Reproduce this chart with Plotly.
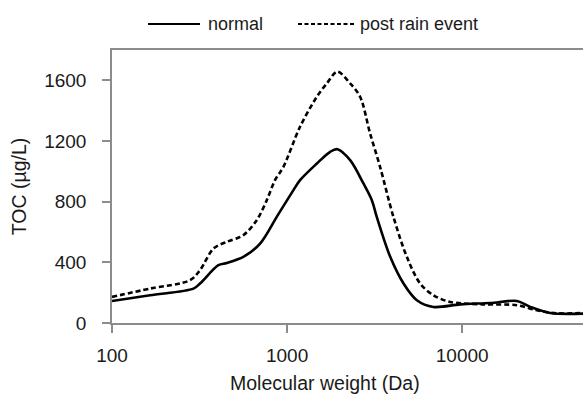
import plotly.graph_objects as go

# Molecular weight (Da) and TOC (µg/L)
mw_normal = [100, 165, 292, 318, 405, 452, 562, 701, 873, 1087, 1186, 1480, 1762, 1937,
             2291, 2729, 3048, 3251, 3882, 4624, 5508, 6855, 9750, 14450, 20560, 24490,
             31840, 48980]
toc_normal = [145, 183, 227, 260, 381, 396, 436, 524, 700, 876, 942, 1052, 1129, 1146,
              1074, 920, 810, 700, 436, 260, 150, 106, 123, 132, 145, 106, 66, 62]

mw_rain = [100, 165, 279, 318, 380, 452, 562, 671, 766, 853, 953, 1186, 1479, 1687, 1937,
           2291, 2612, 2979, 3396, 4046, 4831, 5754, 6855, 8531, 13180, 20560, 26730,
           34670, 48980]
toc_rain = [172, 227, 282, 348, 491, 535, 579, 678, 810, 942, 1030, 1294, 1492, 1580, 1657,
            1580, 1492, 1250, 1030, 700, 436, 260, 183, 139, 123, 117, 84, 64, 66]

x_ticks = [100, 1000, 10000]
y_ticks = [0, 400, 800, 1200, 1600]
series_names = ["normal", "post rain event"]

font = "Liberation Sans, Arial, sans-serif"
axis_col = "#8c8c8c"
txt_col = "#1a1a1a"

W, H = 583, 399
L, R, T, B = 112, 0, 50, 76
pw, ph = W - L - R, H - T - B


def px_x(p):
    return (p - L) / pw


def px_y(p):
    return (H - B - p) / ph


fig = go.Figure()
fig.add_trace(go.Scatter(x=mw_normal, y=toc_normal, mode="lines", name=series_names[0],
                         line=dict(color="black", width=2.6, shape="spline", smoothing=0.9)))
fig.add_trace(go.Scatter(x=mw_rain, y=toc_rain, mode="lines", name=series_names[1],
                         line=dict(color="black", width=2.6, dash="5px,3px", shape="spline",
                                   smoothing=0.9)))

# manual legend (line samples + labels) above the plot
legend_y = 24
for (x0, x1, dash), tx, name in [((148, 200, "solid"), 206, series_names[0]),
                                 ((298, 355, "4px,2.5px"), 358, series_names[1])]:
    fig.add_shape(type="line", xref="paper", yref="paper",
                  x0=px_x(x0), x1=px_x(x1), y0=px_y(legend_y), y1=px_y(legend_y),
                  line=dict(color="black", width=2, dash=dash))
    fig.add_annotation(text=name, xref="paper", yref="paper", x=px_x(tx), y=px_y(legend_y),
                       xanchor="left", yanchor="middle", showarrow=False,
                       font=dict(size=18, color=txt_col, family=font))

# x-axis title placed as an annotation so its vertical position can be matched
fig.add_annotation(text="Molecular weight (Da)", xref="paper", yref="paper",
                   x=px_x(325), y=px_y(383), xanchor="center", yanchor="middle",
                   showarrow=False, font=dict(size=19.5, color=txt_col, family=font))

fig.update_layout(
    width=W, height=H,
    margin=dict(l=L, r=R, t=T, b=B, autoexpand=False),
    paper_bgcolor="white", plot_bgcolor="white",
    font=dict(family=font, size=19, color=txt_col),
    showlegend=False,
    xaxis=dict(type="log", range=[2, 4.69], tickvals=x_ticks,
               ticktext=[str(v) for v in x_ticks], automargin=False,
               showgrid=False, zeroline=False, showline=True, linecolor=axis_col,
               linewidth=1.5, mirror=True, ticks="outside", ticklen=8, tickcolor=axis_col,
               tickwidth=1.5, ticklabelstandoff=6, tickfont=dict(size=19)),
    yaxis=dict(range=[0, 1800], tickvals=y_ticks, showgrid=False, zeroline=False,
               automargin=False,
               showline=True, linecolor=axis_col, linewidth=1.5, ticks="outside",
               ticklen=8, tickcolor=axis_col, tickwidth=1.5, ticklabelstandoff=12,
               tickfont=dict(size=19),
               title=dict(text="TOC (µg/L)", standoff=12, font=dict(size=19.5))),
)

fig.write_html("out.html", config={"displayModeBar": False},
               post_script="document.body.style.margin='0';document.body.style.overflow='hidden';")
